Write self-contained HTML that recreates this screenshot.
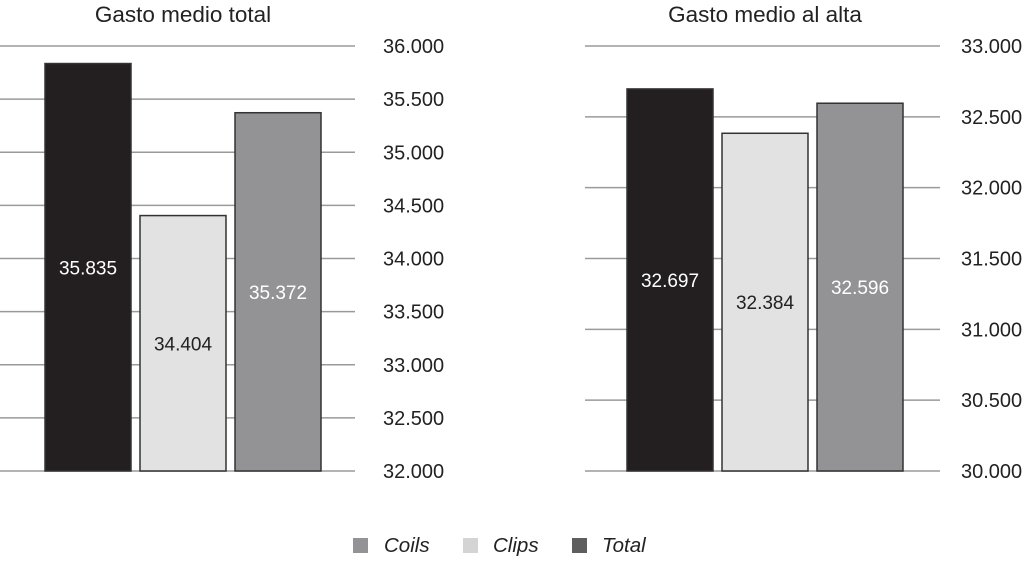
<!DOCTYPE html>
<html><head><meta charset="utf-8"><style>
body{margin:0;background:#fff;width:1024px;height:562px;overflow:hidden}
svg{display:block;font-family:"Liberation Sans",sans-serif}
</style></head><body>
<svg id="c" width="1024" height="562">
<g id="legend">
<g><rect x="353" y="538" width="15" height="15" fill="#939396"/><text x="384" y="552" font-size="20.5" font-style="italic" fill="#222">Coils</text></g>
<g><rect x="463" y="538" width="15" height="15" fill="#d4d4d4"/><text x="493" y="552" font-size="20.5" font-style="italic" fill="#222">Clips</text></g>
<g><rect x="572" y="538" width="15" height="15" fill="#5e5e5e"/><text x="602" y="552" font-size="20.5" font-style="italic" fill="#222">Total</text></g>
</g>
</svg>
<script>
const categories=["Total","Clips","Coils"];
const leftValues=[35835,34404,35372];
const rightValues=[32697,32384,32596];
const leftTicks=[32000,32500,33000,33500,34000,34500,35000,35500,36000];
const rightTicks=[30000,30500,31000,31500,32000,32500,33000];
const fills=["#231f20","#e2e2e2","#939396"];
const textCol=["#fff","#222","#fff"];
const NS="http://www.w3.org/2000/svg";
const svg=document.getElementById('c');
function el(t,a,p){const e=document.createElementNS(NS,t);for(const k in a)e.setAttribute(k,a[k]);(p||svg).appendChild(e);return e;}
function fmt(v){return String(v).replace(/\B(?=(\d{3})+(?!\d))/g,'.');}
function chart(cfg){
  const g=el('g',{});
  
  
  const min=cfg.ticks[0],max=cfg.ticks[cfg.ticks.length-1];
  const y=v=>471-(v-min)*425/(max-min);
  const t=el('text',{x:cfg.titleX,y:22,'font-size':22.5,'text-anchor':'middle',fill:'#222'},g);
  t.textContent=cfg.title;
  
  
  cfg.ticks.forEach(v=>{
    const l=el('line',{x1:cfg.gx0,x2:cfg.gx1,y1:y(v),y2:y(v),stroke:'#9a9a9a','stroke-width':1.5},g);
    
    
    const tl=el('text',{x:cfg.lx,y:y(v)+7,'font-size':20,fill:'#222'},g);
    tl.textContent=fmt(v);
    
    
  });
  cfg.values.forEach((v,i)=>{
    const x=cfg.bx[i],top=y(v);
    const r=el('rect',{x:x,y:top,width:86,height:471-top,fill:fills[i],stroke:'#333','stroke-width':1.5},g);
    
    
    const vl=el('text',{x:x+43,y:(top+471)/2+7,'font-size':19,'text-anchor':'middle',fill:textCol[i]},g);
    vl.textContent=fmt(v);
    
    
  });
}
chart({name:'chart-gasto-medio-total',title:'Gasto medio total',titleX:183,gx0:0,gx1:355,lx:383,ticks:leftTicks,values:leftValues,bx:[45,140,235]});
chart({name:'chart-gasto-medio-alta',title:'Gasto medio al alta',titleX:765,gx0:585,gx1:940,lx:961,ticks:rightTicks,values:rightValues,bx:[627,722,817]});
</script>
</body></html>
